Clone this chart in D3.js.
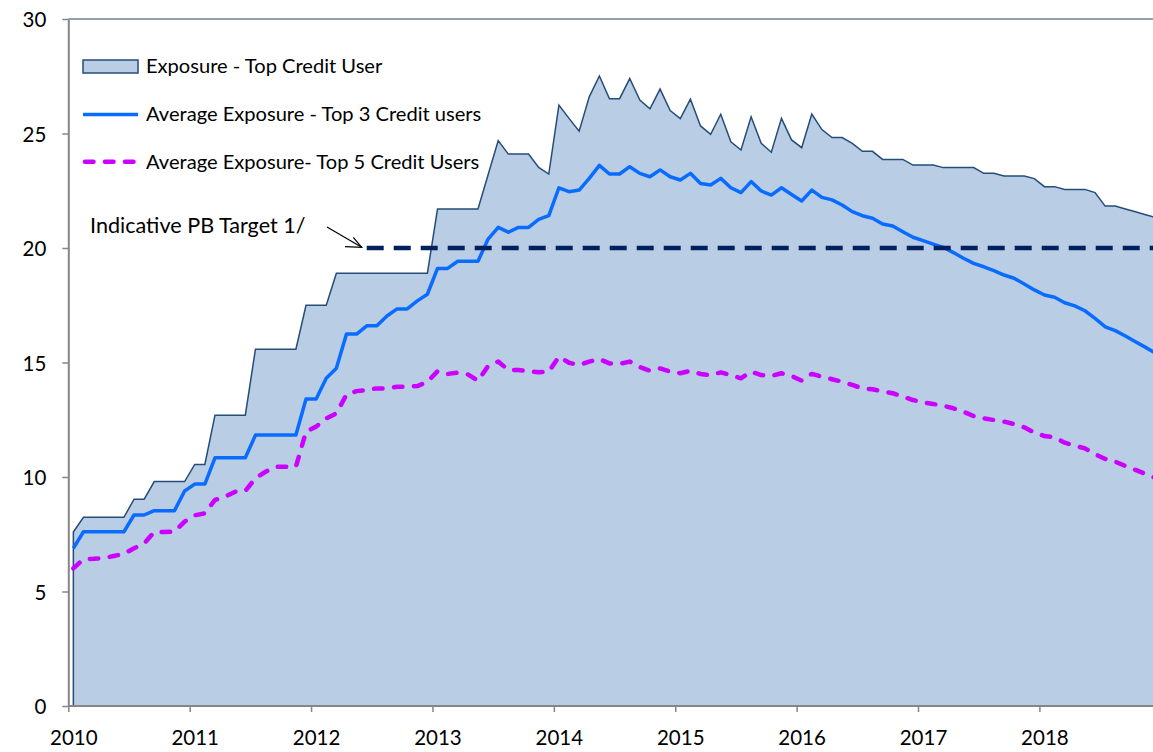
<!DOCTYPE html>
<html><head><meta charset="utf-8">
<script src="https://cdn.jsdelivr.net/npm/d3@7"></script>
<style>
body{margin:0;background:#fff}
svg{display:block}
text{font-family:Lato,"Open Sans",sans-serif;fill:#000}
</style>
</head><body>
<svg id="chart" width="1153" height="752"></svg>
<script>
// ---- data (monthly, Jan 2010 .. Dec 2018) ----
const firstYear = 2010;
const yearTicks = [2010, 2011, 2012, 2013, 2014, 2015, 2016, 2017, 2018];
const valueTicks = [0, 5, 10, 15, 20, 25, 30];
const seriesNames = ["Exposure - Top Credit User", "Average Exposure - Top 3 Credit users", "Average Exposure- Top 5 Credit Users"];
const targetLabel = "Indicative PB Target 1/";

const topUser = [
  7.6, 8.24, 8.24, 8.24, 8.24, 8.24, 9.03, 9.03, 9.8, 9.8, 9.8, 9.8,
  10.55, 10.55, 12.7, 12.7, 12.7, 12.7, 15.58, 15.58, 15.58, 15.58, 15.58, 17.5,
  17.5, 17.5, 18.9, 18.9, 18.9, 18.9, 18.9, 18.9, 18.9, 18.9, 18.9, 18.9,
  21.7, 21.7, 21.7, 21.7, 21.7, 23.2, 24.69, 24.1, 24.1, 24.1, 23.52, 23.23,
  26.24, 25.66, 25.1, 26.6, 27.51, 26.52, 26.52, 27.4, 26.46, 26.08, 26.94, 26.0,
  25.65, 26.5, 25.33, 24.96, 25.84, 24.64, 24.28, 25.73, 24.57, 24.18, 25.66, 24.72,
  24.38, 25.85, 25.17, 24.82, 24.82, 24.57, 24.22, 24.22, 23.87, 23.87, 23.87, 23.62,
  23.62, 23.62, 23.51, 23.51, 23.51, 23.51, 23.26, 23.26, 23.14, 23.14, 23.14, 23.03,
  22.68, 22.68, 22.56, 22.56, 22.56, 22.42, 21.83, 21.83, 21.7, 21.58, 21.45, 21.33
];
const top3Avg = [
  6.89, 7.61, 7.61, 7.61, 7.61, 7.61, 8.34, 8.34, 8.53, 8.53, 8.53, 9.39,
  9.69, 9.69, 10.84, 10.84, 10.84, 10.84, 11.83, 11.83, 11.83, 11.83, 11.83, 13.41,
  13.41, 14.31, 14.75, 16.24, 16.24, 16.6, 16.6, 17.03, 17.34, 17.34, 17.69, 17.98,
  19.11, 19.11, 19.42, 19.42, 19.42, 20.39, 20.9, 20.69, 20.9, 20.9, 21.25, 21.41,
  22.63, 22.46, 22.53, 23.04, 23.61, 23.23, 23.23, 23.55, 23.26, 23.11, 23.41, 23.11,
  22.97, 23.26, 22.82, 22.75, 23.04, 22.63, 22.42, 22.9, 22.49, 22.31, 22.63, 22.34,
  22.05, 22.53, 22.21, 22.1, 21.88, 21.59, 21.41, 21.3, 21.05, 20.96, 20.71, 20.47,
  20.32, 20.17, 20.03, 19.8, 19.55, 19.33, 19.18, 19.01, 18.82, 18.68, 18.43, 18.17,
  17.95, 17.85, 17.61, 17.47, 17.26, 16.93, 16.56, 16.39, 16.16, 15.91, 15.66, 15.4
];
const top5Avg = [
  6.01, 6.41, 6.43, 6.46, 6.55, 6.64, 6.89, 7.1, 7.6, 7.6, 7.61, 8.05,
  8.33, 8.41, 9.0, 9.14, 9.36, 9.39, 9.95, 10.23, 10.45, 10.45, 10.45, 11.98,
  12.2, 12.56, 12.78, 13.6, 13.75, 13.8, 13.87, 13.87, 13.94, 13.95, 13.97, 14.15,
  14.62, 14.5, 14.56, 14.48, 14.2, 14.85, 15.04, 14.67, 14.67, 14.63, 14.57, 14.6,
  15.25, 14.99, 14.89, 15.04, 15.15, 14.96, 14.94, 15.04, 14.8, 14.64, 14.74, 14.6,
  14.53, 14.64, 14.5, 14.45, 14.57, 14.45, 14.31, 14.6, 14.45, 14.41, 14.53, 14.41,
  14.21, 14.5, 14.38, 14.27, 14.16, 14.02, 13.87, 13.83, 13.74, 13.66, 13.51, 13.36,
  13.26, 13.19, 13.11, 13.0, 12.85, 12.66, 12.56, 12.49, 12.42, 12.31, 12.17, 11.94,
  11.79, 11.73, 11.5, 11.37, 11.25, 11.0, 10.79, 10.67, 10.48, 10.31, 10.13, 9.95
];
const targetMonths = [29, 107];
const targetValues = [20, 20];

// ---- drawing ----
const svg = d3.select("#chart");
const x = d3.scaleLinear().domain([2010, 2018]).range([68.3, 1039.4]);
const y = d3.scaleLinear().domain([0, 30]).range([706, 19]);
const mx = i => x(firstYear + (i + 0.5) / 12);

const C = {
  fill: "#b9cde5", edge: "#254c7a", blue: "#0a6cff", magenta: "#cc00ff",
  target: "#002060", axis: "#868686"
};

// area
const area = d3.area().x((d, i) => mx(i)).y0(y(0)).y1(d => y(d));
svg.append("path").datum(topUser).attr("d", area)
  .attr("fill", C.fill).attr("stroke", C.edge).attr("stroke-width", 1.5).attr("stroke-linejoin", "miter");

// top border of plot area
svg.append("line").attr("x1", x(2010)).attr("x2", 1153).attr("y1", y(30)).attr("y2", y(30))
  .attr("stroke", "#6f7f92").attr("stroke-width", 1.5);

const line = d3.line().x((d, i) => mx(i)).y(d => y(d));
svg.append("path").datum(top3Avg).attr("d", line)
  .attr("fill", "none").attr("stroke", C.blue).attr("stroke-width", 3.5).attr("stroke-linejoin", "round");
svg.append("path").datum(top5Avg).attr("d", line)
  .attr("fill", "none").attr("stroke", C.magenta).attr("stroke-width", 4.5)
  .attr("stroke-dasharray", "8.5 11.5").attr("stroke-linecap", "round").attr("stroke-linejoin", "round");

// target line
const tline = d3.line().x(d => mx(d[0])).y(d => y(d[1]));
svg.append("path").datum(targetMonths.map((m, k) => [m, targetValues[k]])).attr("d", tline)
  .attr("fill", "none").attr("stroke", C.target).attr("stroke-width", 4.5).attr("stroke-dasharray", "17 10");

// axes
const yAxis = d3.axisLeft(y).tickValues(valueTicks).tickSize(6).tickSizeOuter(0).tickPadding(16).tickFormat(d3.format("d"));
const gy = svg.append("g").attr("transform", `translate(${x(2010)},0)`).call(yAxis);
const xAxis = d3.axisBottom(x).tickValues(yearTicks).tickSize(6).tickSizeOuter(0).tickFormat(d3.format("d"));
const gx = svg.append("g").attr("transform", `translate(0,${y(0)})`).call(xAxis);
[gx, gy].forEach(g => {
  g.select(".domain").attr("stroke", C.axis).attr("stroke-width", 2);
  g.selectAll(".tick line").attr("stroke", C.axis).attr("stroke-width", 1.5);
  g.selectAll("text").attr("font-family", "Lato, sans-serif").attr("font-size", 20.5).attr("fill", "#000");
});
gx.select(".domain").attr("d", `M${x(2010)},0H1153`);
gy.selectAll("text").attr("dy", null).attr("y", 7.5);
gx.selectAll("text").attr("dy", null).attr("y", 39).attr("x", 5);

// legend
const lg = svg.append("g");
lg.append("rect").attr("x", 83).attr("y", 60).attr("width", 55).attr("height", 13)
  .attr("fill", C.fill).attr("stroke", C.edge).attr("stroke-width", 1.5);
lg.append("line").attr("x1", 83).attr("x2", 138).attr("y1", 114.5).attr("y2", 114.5)
  .attr("stroke", C.blue).attr("stroke-width", 3.5);
lg.append("line").attr("x1", 85).attr("x2", 136).attr("y1", 161.7).attr("y2", 161.7)
  .attr("stroke", C.magenta).attr("stroke-width", 4.5).attr("stroke-dasharray", "8.5 11.5").attr("stroke-linecap", "round");
const legY = [73, 121, 168.5];
seriesNames.forEach((n, k) => {
  lg.append("text").attr("x", 146).attr("y", legY[k]).attr("font-size", 20.1).text(n);
});

// annotation
svg.append("text").attr("x", 90).attr("y", 233).attr("font-size", 21.6).text(targetLabel);
const ax1 = [327, 227], ax2 = [361.7, 247.3];
svg.append("line").attr("x1", ax1[0]).attr("y1", ax1[1]).attr("x2", ax2[0]).attr("y2", ax2[1])
  .attr("stroke", "#000").attr("stroke-width", 1.2);
svg.append("path").attr("d", `M345,246.7L${ax2[0]},${ax2[1]}L353.3,237.3`)
  .attr("fill", "none").attr("stroke", "#000").attr("stroke-width", 1.2);
</script>
</body></html>
